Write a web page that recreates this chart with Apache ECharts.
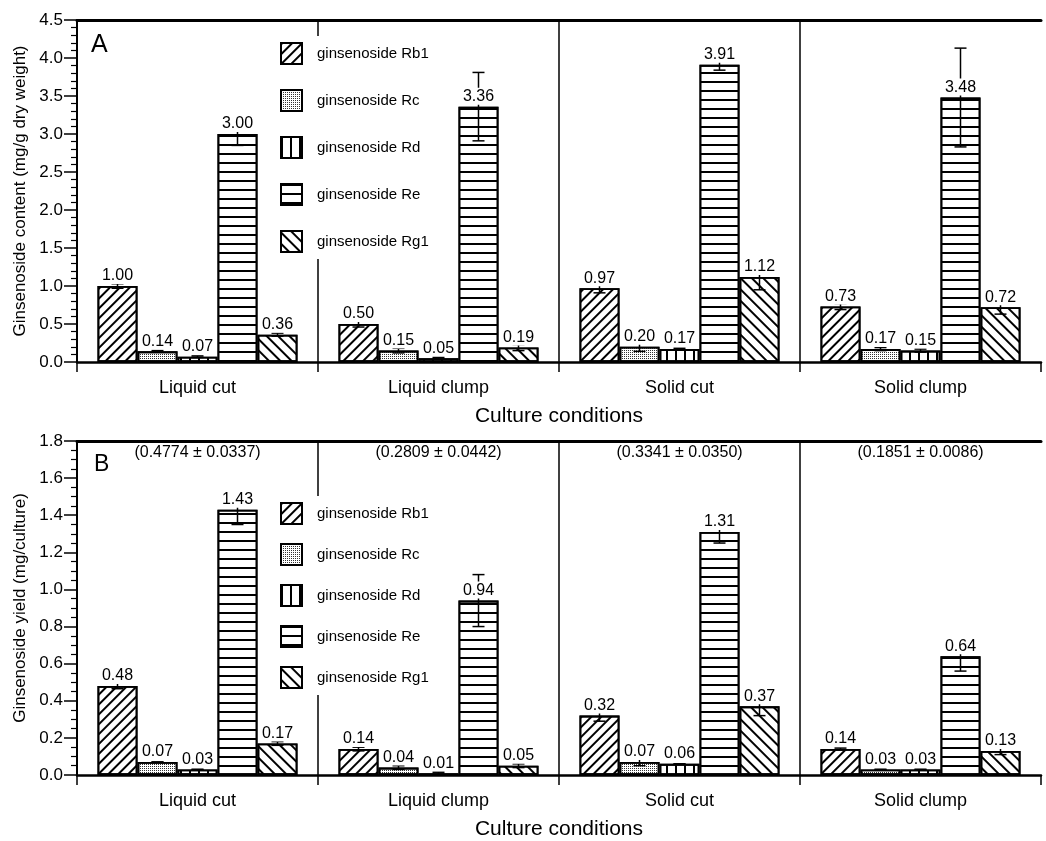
<!DOCTYPE html>
<html>
<head>
<meta charset="utf-8">
<title>Ginsenoside content and yield</title>
<script src="https://cdn.jsdelivr.net/npm/echarts@6/dist/echarts.min.js"></script>
<style>html,body{margin:0;padding:0;background:#fff;}</style>
</head>
<body>
<div id="main" style="width:1046px;height:841px;"></div>
<script type="text/javascript">
var categories = ['Liquid cut', 'Liquid clump', 'Solid cut', 'Solid clump'];
var names = ['ginsenoside Rb1', 'ginsenoside Rc', 'ginsenoside Rd', 'ginsenoside Re', 'ginsenoside Rg1'];

// A: content (mg/g dry weight), ordered like categories
var rb1A = [1.00, 0.50, 0.97, 0.73];
var rcA  = [0.14, 0.15, 0.20, 0.17];
var rdA  = [0.07, 0.05, 0.17, 0.15];
var reA  = [3.00, 3.36, 3.91, 3.48];
var rg1A = [0.36, 0.19, 1.12, 0.72];
// A: error (+/-)
var rb1ErrA = [0.03, 0.04, 0.06, 0.04];
var rcErrA  = [0.01, 0.03, 0.06, 0.02];
var rdErrA  = [0.01, 0.01, 0.01, 0.02];
var reErrA  = [0.15, 0.45, 0.07, 0.65];
var rg1ErrA = [0.02, 0.04, 0.17, 0.09];

// B: yield (mg/culture)
var rb1B = [0.48, 0.14, 0.32, 0.14];
var rcB  = [0.07, 0.04, 0.07, 0.03];
var rdB  = [0.03, 0.01, 0.06, 0.03];
var reB  = [1.43, 0.94, 1.31, 0.64];
var rg1B = [0.17, 0.05, 0.37, 0.13];
var rb1ErrB = [0.015, 0.01, 0.03, 0.005];
var rcErrB  = [0.0, 0.01, 0.02, 0.0];
var rdErrB  = [0.0, 0.005, 0.0, 0.0];
var reErrB  = [0.08, 0.14, 0.06, 0.08];
var rg1ErrB = [0.01, 0.01, 0.05, 0.02];

// total yield per condition, printed above panel B
var totalB = ['(0.4774 \u00b1 0.0337)', '(0.2809 \u00b1 0.0442)', '(0.3341 \u00b1 0.0350)', '(0.1851 \u00b1 0.0086)'];

var yTicksA = {min: 0, max: 4.5, interval: 0.5};
var yTicksB = {min: 0, max: 1.8, interval: 0.2};

var FONT = '"Liberation Sans", Arial, Helvetica, sans-serif';
var BAR_W = 40;

var decals = [
    {symbol: 'rect', symbolSize: 1, color: '#000', dashArrayX: [1, 0], dashArrayY: [1.3, 4.6], rotation: -Math.PI / 4},
    {symbol: 'rect', symbolSize: 1, color: '#333', dashArrayX: [1, 1], dashArrayY: [1, 1]},
    {symbol: 'rect', symbolSize: 1, color: '#000', dashArrayX: [1.5, 6.5], dashArrayY: [1, 0]},
    {symbol: 'rect', symbolSize: 1, color: '#000', dashArrayX: [1, 0], dashArrayY: [1.8, 6.2]},
    {symbol: 'rect', symbolSize: 1, color: '#000', dashArrayX: [1, 0], dashArrayY: [1.3, 5.4], rotation: Math.PI / 4}
];

function errData(vals, errs) {
    var out = [];
    for (var k = 0; k < vals.length; k++) {
        for (var i = 0; i < vals[k].length; i++) {
            out.push([i, k, vals[k][i] - errs[k][i], vals[k][i] + errs[k][i]]);
        }
    }
    return out;
}

function renderErr(params, api) {
    var cat = api.value(0), k = api.value(1);
    var hi = api.coord([cat, api.value(3)]);
    var lo = api.coord([cat, api.value(2)]);
    var x = hi[0] + (k - 2) * BAR_W;
    var st = {stroke: '#000', lineWidth: 1.5};
    return {
        type: 'group',
        children: [
            {type: 'line', shape: {x1: x, y1: hi[1], x2: x, y2: lo[1]}, style: st},
            {type: 'line', shape: {x1: x - 6, y1: hi[1], x2: x + 6, y2: hi[1]}, style: st},
            {type: 'line', shape: {x1: x - 6, y1: lo[1], x2: x + 6, y2: lo[1]}, style: st}
        ]
    };
}

function barSeries(name, k, data, xi, yi) {
    return {
        name: name,
        type: 'bar',
        xAxisIndex: xi,
        yAxisIndex: yi,
        data: data,
        barWidth: BAR_W,
        barGap: '0%',
        z: 6,
        itemStyle: {color: 'rgba(255,255,255,0)', borderColor: '#000', borderWidth: 1.8, decal: decals[k]},
        emphasis: {disabled: true},
        label: {
            show: true, position: 'top', distance: 2, color: '#000',
            fontFamily: FONT, fontSize: 16, backgroundColor: '#fff', padding: [1, 1, 0, 1],
            formatter: function (p) { return p.value.toFixed(2); }
        }
    };
}

function catAxis(gi) {
    return {
        type: 'category', gridIndex: gi, data: categories, position: 'bottom',
        axisLine: {lineStyle: {color: '#000', width: 2.5}},
        axisTick: {show: true, length: 10, lineStyle: {color: '#000', width: 1.5}},
        axisLabel: {color: '#000', fontFamily: FONT, fontSize: 18, margin: 17},
        name: 'Culture conditions', nameLocation: 'middle', nameGap: 44,
        nameTextStyle: {color: '#000', fontFamily: FONT, fontSize: 21}
    };
}

// top frame line plus the separators between conditions
function frameAxis(gi) {
    return {
        type: 'value', gridIndex: gi, position: 'top', min: 0, max: 4, interval: 1,
        axisLine: {show: true, lineStyle: {color: '#000', width: 3}},
        axisTick: {show: false}, axisLabel: {show: false},
        splitLine: {show: true, showMinLine: false, showMaxLine: false, lineStyle: {color: '#000', width: 1.5}}
    };
}

function valAxis(gi, t, name, minorSplit) {
    return {
        type: 'value', gridIndex: gi, min: t.min, max: t.max, interval: t.interval,
        axisLine: {show: true, lineStyle: {color: '#000', width: 2}},
        axisTick: {show: true, length: 13, lineStyle: {color: '#000', width: 1.5}},
        minorTick: {show: true, splitNumber: minorSplit, length: 6, lineStyle: {color: '#000', width: 1.2}},
        splitLine: {show: false},
        axisLabel: {color: '#000', fontFamily: FONT, fontSize: 17, margin: 14,
            formatter: function (v) { return v.toFixed(1); }},
        name: name, nameLocation: 'middle', nameGap: 45,
        nameTextStyle: {color: '#000', fontFamily: FONT, fontSize: 17}
    };
}

function legendBox(top, gap) {
    return {
        orient: 'vertical', left: 272, top: top, data: names,
        icon: 'rect', itemWidth: 21, itemHeight: 21, itemGap: gap,
        backgroundColor: '#fff', padding: [6, 10, 6, 8],
        selectedMode: false,
        itemStyle: {borderColor: '#000', borderWidth: 2},
        textStyle: {color: '#000', fontFamily: FONT, fontSize: 15, padding: [0, 0, 0, 10]}
    };
}

var valsA = [rb1A, rcA, rdA, reA, rg1A];
var errsA = [rb1ErrA, rcErrA, rdErrA, reErrA, rg1ErrA];
var valsB = [rb1B, rcB, rdB, reB, rg1B];
var errsB = [rb1ErrB, rcErrB, rdErrB, reErrB, rg1ErrB];

var series = [];
for (var k = 0; k < 5; k++) series.push(barSeries(names[k], k, valsA[k], 0, 0));
for (var k = 0; k < 5; k++) series.push(barSeries(names[k], k, valsB[k], 2, 1));
series.push({type: 'custom', xAxisIndex: 0, yAxisIndex: 0, renderItem: renderErr,
    encode: {x: 0, y: [2, 3]}, data: errData(valsA, errsA), z: 5, silent: true});
series.push({type: 'custom', xAxisIndex: 2, yAxisIndex: 1, renderItem: renderErr,
    encode: {x: 0, y: [2, 3]}, data: errData(valsB, errsB), z: 5, silent: true});

// totals as markPoints on the middle (Rd) bar of panel B so they sit centred
series[7].markPoint = {
    symbol: 'rect', symbolSize: 0, silent: true,
    label: {show: true, position: 'inside', color: '#000', fontFamily: FONT, fontSize: 16,
        formatter: function (p) { return p.name; }},
    data: totalB.map(function (t, i) { return {name: t, coord: [i, 1.735]}; })
};

var myChart = echarts.init(document.getElementById('main'));
var option = {
    backgroundColor: '#fff',
    animation: false,
    textStyle: {fontFamily: FONT},
    title: [
        {text: 'A', left: 86, top: 28, textStyle: {fontSize: 25, fontWeight: 'normal', color: '#000', fontFamily: FONT}},
        {text: 'B', left: 89, top: 448, textStyle: {fontSize: 23, fontWeight: 'normal', color: '#000', fontFamily: FONT}}
    ],
    legend: [legendBox(36, 24), legendBox(496, 18)],
    grid: [
        {left: 77, right: 5, top: 20, height: 342},
        {left: 77, right: 5, top: 441, height: 339}
    ],
    xAxis: [catAxis(0), frameAxis(0), catAxis(1), frameAxis(1)],
    yAxis: [
        valAxis(0, yTicksA, 'Ginsenoside content (mg/g dry weight)', 5),
        valAxis(1, yTicksB, 'Ginsenoside yield (mg/culture)', 4)
    ],
    series: series
};
myChart.setOption(option);
</script>
</body>
</html>
